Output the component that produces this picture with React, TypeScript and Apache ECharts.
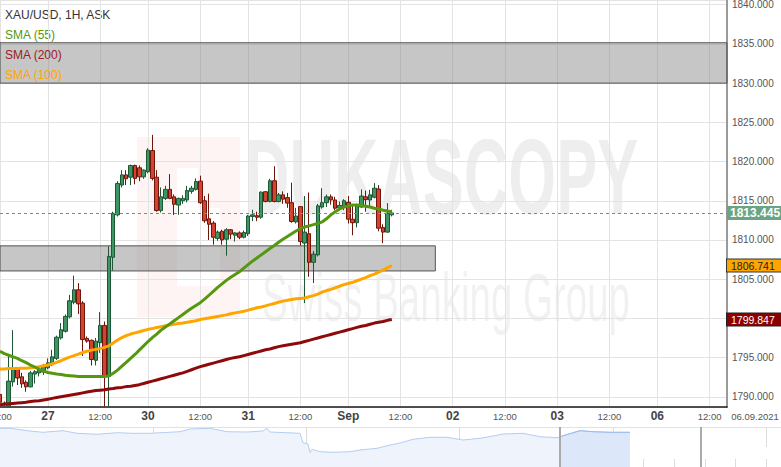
import React, { useEffect, useRef } from "react";
import * as echarts from "echarts";

const FONT = 'Arial, "Liberation Sans", sans-serif';
const range = (a: number, b: number) => Array.from({ length: b - a + 1 }, (_, i) => a + i);

// trading sessions (hourly slots, daily break at 21:00, weekend skipped)
const sessions = [
  { date: "2021-08-26", hours: [...range(12, 20), 22, 23] },
  { date: "2021-08-27", hours: range(0, 20) },
  { date: "2021-08-29", hours: [22, 23] },
  { date: "2021-08-30", hours: [...range(0, 20), 22, 23] },
  { date: "2021-08-31", hours: [...range(0, 20), 22, 23] },
  { date: "2021-09-01", hours: range(0, 23) },
  { date: "2021-09-02", hours: range(0, 23) },
  { date: "2021-09-03", hours: range(0, 20) },
  { date: "2021-09-05", hours: [22, 23] },
  { date: "2021-09-06", hours: range(0, 16) },
];
const dayLabels: Record<string, string> = {
  "2021-08-27": "27",
  "2021-08-30": "30",
  "2021-08-31": "31",
  "2021-09-01": "Sep",
  "2021-09-02": "02",
  "2021-09-03": "03",
  "2021-09-06": "06",
};

// [open, close, low, high]
const candles: number[][] = [
  [1790.3, 1789.3, 1788.75, 1791.3],
  [1789.2, 1789.0, 1788.8, 1789.4],
  [1788.8, 1792.0, 1788.75, 1795.4],
  [1791.9, 1793.5, 1791.3, 1798.5],
  [1793.5, 1792.4, 1791.5, 1793.8],
  [1792.55, 1791.65, 1791.15, 1793.05],
  [1791.86, 1791.27, 1790.64, 1792.1],
  [1791.27, 1793.05, 1791.2, 1793.3],
  [1792.9, 1793.2, 1791.7, 1793.4],
  [1793.05, 1793.4, 1792.6, 1793.8],
  [1793.15, 1794.0, 1792.8, 1794.2],
  [1793.7, 1794.33, 1793.5, 1794.9],
  [1794.1, 1795.1, 1793.9, 1796.0],
  [1794.9, 1797.6, 1794.7, 1797.8],
  [1797.5, 1798.55, 1797.3, 1799.4],
  [1798.35, 1800.25, 1798.2, 1800.5],
  [1800.2, 1802.25, 1800.0, 1803.0],
  [1802.05, 1803.65, 1801.8, 1805.45],
  [1803.65, 1801.85, 1800.55, 1804.5],
  [1801.95, 1797.3, 1795.2, 1802.2],
  [1797.45, 1797.1, 1796.9, 1797.7],
  [1797.2, 1794.75, 1794.0, 1797.3],
  [1794.65, 1797.1, 1794.0, 1797.5],
  [1796.9, 1799.1, 1795.6, 1800.8],
  [1799.1, 1792.6, 1788.75, 1799.6],
  [1792.6, 1807.9, 1788.75, 1809.2],
  [1807.8, 1813.4, 1806.1, 1813.6],
  [1813.2, 1817.2, 1813.0, 1817.5],
  [1817.0, 1818.3, 1816.7, 1818.9],
  [1818.3, 1817.8, 1817.0, 1818.9],
  [1818.0, 1819.5, 1817.0, 1819.6],
  [1819.5, 1817.85, 1817.1, 1819.6],
  [1819.2, 1818.05, 1817.5, 1819.5],
  [1818.05, 1818.9, 1817.8, 1819.0],
  [1818.7, 1821.45, 1818.5, 1821.7],
  [1821.4, 1817.85, 1817.6, 1823.4],
  [1818.0, 1813.75, 1813.6, 1818.9],
  [1813.75, 1815.5, 1813.5, 1816.7],
  [1815.3, 1816.45, 1815.1, 1816.9],
  [1816.45, 1815.3, 1815.2, 1818.4],
  [1815.5, 1814.55, 1813.2, 1815.8],
  [1814.45, 1815.3, 1813.2, 1815.4],
  [1815.0, 1815.3, 1814.6, 1815.7],
  [1815.1, 1816.3, 1814.8, 1816.9],
  [1816.2, 1816.6, 1815.9, 1816.9],
  [1816.45, 1817.45, 1816.3, 1817.85],
  [1817.5, 1814.75, 1814.6, 1818.2],
  [1815.0, 1812.45, 1812.2, 1815.6],
  [1812.7, 1812.0, 1810.0, 1815.9],
  [1812.15, 1810.35, 1809.4, 1812.4],
  [1810.2, 1811.0, 1809.9, 1811.2],
  [1811.1, 1810.0, 1809.4, 1811.3],
  [1810.1, 1811.3, 1808.0, 1811.5],
  [1811.3, 1810.75, 1810.1, 1811.4],
  [1810.6, 1810.9, 1809.8, 1811.0],
  [1810.9, 1810.35, 1810.1, 1811.1],
  [1810.35, 1810.95, 1810.2, 1811.2],
  [1810.8, 1813.05, 1810.5, 1813.2],
  [1813.0, 1813.2, 1812.4, 1813.85],
  [1813.1, 1812.9, 1812.4, 1813.6],
  [1812.9, 1816.1, 1812.7, 1816.2],
  [1816.15, 1814.9, 1814.8, 1816.2],
  [1814.9, 1817.55, 1814.8, 1817.8],
  [1817.55, 1814.9, 1814.8, 1819.4],
  [1814.9, 1815.75, 1814.8, 1816.0],
  [1815.75, 1815.2, 1814.6, 1816.2],
  [1815.4, 1814.7, 1814.1, 1816.0],
  [1814.75, 1812.35, 1812.2, 1817.3],
  [1812.3, 1813.05, 1812.1, 1814.1],
  [1814.25, 1809.8, 1809.3, 1814.25],
  [1809.6, 1811.0, 1801.95, 1815.6],
  [1810.8, 1807.15, 1805.3, 1816.05],
  [1807.15, 1808.2, 1804.5, 1808.6],
  [1808.1, 1814.35, 1807.9, 1814.6],
  [1814.2, 1814.75, 1814.0, 1816.6],
  [1814.75, 1815.5, 1814.2, 1815.8],
  [1815.5, 1815.1, 1814.5, 1815.8],
  [1815.1, 1814.05, 1813.8, 1815.5],
  [1814.1, 1814.4, 1813.8, 1814.9],
  [1814.2, 1815.0, 1813.8, 1815.2],
  [1814.8, 1812.65, 1812.1, 1815.6],
  [1812.65, 1812.2, 1810.6, 1814.5],
  [1812.2, 1814.4, 1811.6, 1814.6],
  [1814.2, 1815.6, 1814.1, 1816.45],
  [1815.5, 1815.15, 1813.6, 1816.3],
  [1815.1, 1815.75, 1814.3, 1816.4],
  [1815.45, 1816.6, 1815.3, 1817.25],
  [1816.5, 1811.5, 1811.1, 1817.0],
  [1811.6, 1811.0, 1809.6, 1812.0],
  [1811.0, 1813.4, 1810.9, 1814.7],
  [1813.2, 1813.445, 1813.0, 1813.85],
];

const sma55 = [
  1795.8, 1795.5, 1795.3, 1795.1, 1794.9, 1794.6, 1794.35, 1794.05, 1793.8, 1793.5,
  1793.3, 1793.1, 1793.0, 1792.9, 1792.85, 1792.75, 1792.7, 1792.65, 1792.6, 1792.6,
  1792.6, 1792.6, 1792.6, 1792.6, 1792.6, 1792.65, 1793.0, 1793.4, 1793.9, 1794.4,
  1794.9, 1795.4, 1795.95, 1796.5, 1797.05, 1797.55, 1798.0, 1798.5, 1798.9, 1799.3,
  1799.7, 1800.1, 1800.5, 1800.9, 1801.3, 1801.65, 1802.0, 1802.45, 1802.95, 1803.45,
  1803.95, 1804.4, 1804.85, 1805.25, 1805.6, 1805.95, 1806.4, 1806.85, 1807.3, 1807.7,
  1808.1, 1808.5, 1808.9, 1809.3, 1809.7, 1810.1, 1810.45, 1810.8, 1811.15, 1811.45,
  1811.65, 1811.8, 1811.95, 1812.1, 1812.3, 1812.7, 1813.2, 1813.6, 1813.95, 1814.2,
  1814.35, 1814.45, 1814.45, 1814.4, 1814.3, 1814.2, 1814.05, 1813.95, 1813.8, 1813.7,
  1813.6,
];

const sma100 = [
  1793.55, 1793.55, 1793.6, 1793.6, 1793.6, 1793.65, 1793.65, 1793.7, 1793.75, 1793.85,
  1793.95, 1794.05, 1794.2, 1794.4, 1794.6, 1794.85, 1795.05, 1795.25, 1795.45, 1795.65,
  1795.8, 1795.95, 1796.05, 1796.15, 1796.3, 1796.5, 1796.85, 1797.25, 1797.55, 1797.8,
  1798.0, 1798.15, 1798.3, 1798.45, 1798.6, 1798.7, 1798.85, 1798.95, 1799.05, 1799.15,
  1799.25, 1799.35, 1799.4, 1799.5, 1799.6, 1799.7, 1799.85, 1799.95, 1800.05, 1800.15,
  1800.25, 1800.35, 1800.45, 1800.6, 1800.7, 1800.8, 1800.9, 1801.05, 1801.2, 1801.35,
  1801.45, 1801.6, 1801.75, 1801.9, 1802.05, 1802.2, 1802.3, 1802.4, 1802.5, 1802.55,
  1802.6, 1802.75, 1802.9, 1803.1, 1803.35, 1803.55, 1803.7, 1803.9, 1804.1, 1804.3,
  1804.45, 1804.6, 1804.8, 1805.0, 1805.2, 1805.45, 1805.65, 1805.9, 1806.15, 1806.45,
  1806.741,
];

const sma200 = [
  1789.0, 1789.05, 1789.1, 1789.15, 1789.2, 1789.25, 1789.3, 1789.4, 1789.45, 1789.5,
  1789.6, 1789.7, 1789.8, 1789.9, 1790.0, 1790.1, 1790.2, 1790.3, 1790.4, 1790.5,
  1790.6, 1790.7, 1790.8, 1790.85, 1790.9, 1791.0, 1791.05, 1791.15, 1791.2, 1791.3,
  1791.35, 1791.45, 1791.55, 1791.7, 1791.85, 1792.0, 1792.15, 1792.3, 1792.45, 1792.6,
  1792.75, 1792.9, 1793.05, 1793.25, 1793.45, 1793.65, 1793.85, 1794.0, 1794.15, 1794.3,
  1794.45, 1794.6, 1794.75, 1794.9, 1795.0, 1795.1, 1795.25, 1795.4, 1795.55, 1795.7,
  1795.85, 1796.0, 1796.1, 1796.25, 1796.4, 1796.5, 1796.6, 1796.7, 1796.8, 1796.9,
  1797.05, 1797.2, 1797.35, 1797.5, 1797.65, 1797.8, 1797.95, 1798.1, 1798.25, 1798.4,
  1798.55, 1798.7, 1798.85, 1799.0, 1799.1, 1799.25, 1799.4, 1799.5, 1799.6, 1799.75,
  1799.847,
];

// resistance / support zones [top, bottom] and zone-2 end slot
const zoneUpper = [1835.15, 1830.0];
const zoneLower = [1809.25, 1806.05];
const zoneLowerEndSlot = 100;

// navigator (overview) line: [position, level]
const navPoints: number[][] = [
  [0, 38.7], [10, 38.7], [30, 36], [43, 34.7], [63, 36.3], [77, 33.7], [97, 32.7],
  [117, 34.3], [133, 33.7], [150, 33.7], [180, 35.3], [190, 38], [210, 38.7],
  [227, 35.3], [247, 35], [263, 36], [267, 38.7], [270, 35], [300, 33.7], [303, 24.3],
  [308, 23], [310, 14.3], [312, 17.7], [320, 15.3], [333, 14.7], [350, 15.3], [360, 17],
  [377, 18.7], [390, 22], [400, 24], [413, 27.7], [430, 29.7], [447, 29.7], [463, 27],
  [480, 28.7], [493, 31], [503, 33], [523, 33.7], [540, 30.3], [557, 29.3], [560, 30],
  [562, 31], [580, 36.3], [593, 35.3], [610, 34.7], [630, 34.7],
];
const navWindowStart = 560;
const navHandle = 701;
const navTickStep = 30.65;

const categories = sessions.flatMap((s) =>
  s.hours.map((h) => `${s.date} ${String(h).padStart(2, "0")}:00`)
);
const labelOf = (v: string) => {
  const [d, t] = v.split(" ");
  if (t === "00:00" && dayLabels[d]) return `{day|${dayLabels[d]}}`;
  if (t === "12:00") return `{hr|12:00}`;
  return "";
};
const isLabelSlot = (_i: number, v: string) => labelOf(v) !== "";

export default function App() {
  const ref = useRef<HTMLDivElement>(null);
  useEffect(() => {
    if (!ref.current) return;
    const chart = echarts.init(ref.current, undefined, { renderer: "svg" });
    const lastPrice = candles[candles.length - 1][1];
    const last100 = sma100[sma100.length - 1];
    const last200 = sma200[sma200.length - 1];
    const tag = (bg: string, color: string, bold: boolean, border?: string) => ({
      show: true,
      position: "end",
      distance: 0,
      color,
      opacity: 1,
      fontFamily: FONT,
      fontSize: bold ? 12 : 10.5,
      fontWeight: bold ? "bold" : "normal",
      backgroundColor: bg,
      borderColor: border || bg,
      borderWidth: border ? 1 : 0,
      padding: bold ? [1, 3, 1, 3] : [1, 8, 0, 4],
      lineHeight: bold ? 12 : 11,
    });
    const hiddenLine = { color: "rgba(0,0,0,0)", width: 1, type: "solid" };
    const option: any = {
      animation: false,
      backgroundColor: "#ffffff",
      textStyle: { fontFamily: FONT },
      grid: [
        { left: 0, right: 54, top: 0, height: 407, outerBoundsMode: "none" },
        { left: 0, right: 0, top: 427, height: 40, outerBoundsMode: "none" },
      ],
      xAxis: [
        {
          type: "category",
          gridIndex: 0,
          data: categories,
          boundaryGap: false,
          axisLine: { lineStyle: { color: "#1a1a1a", width: 1.5 } },
          axisTick: { show: false },
          axisLabel: {
            interval: isLabelSlot,
            formatter: (v: string) => labelOf(v),
            margin: 3,
            rich: {
              day: { fontSize: 12, fontWeight: "bold", color: "#444", lineHeight: 12, fontFamily: FONT },
              hr: { fontSize: 9.5, color: "#555", lineHeight: 12, fontFamily: FONT },
            },
          },
          splitLine: { show: true, interval: isLabelSlot, lineStyle: { color: "#e3e3e3", width: 1 } },
        },
        {
          type: "value",
          gridIndex: 1,
          min: 0,
          max: 781,
          interval: navTickStep,
          axisLine: { show: false },
          axisLabel: { show: false },
          axisTick: { show: true, inside: true, length: 8, lineStyle: { color: "#dcdcdc" } },
          splitLine: { show: false },
        },
        {
          type: "value",
          gridIndex: 1,
          min: 0,
          max: 781,
          interval: navTickStep * 5,
          axisLine: { show: false },
          axisLabel: { show: false },
          axisTick: { show: true, inside: true, length: 20, lineStyle: { color: "#dcdcdc" } },
          splitLine: { show: false },
        },
      ],
      yAxis: [
        {
          type: "value",
          gridIndex: 0,
          position: "right",
          min: 1788.7,
          max: 1840.6,
          splitNumber: 10,
          axisLine: { show: true, lineStyle: { color: "#9a9a9a", width: 2 } },
          axisTick: { show: false },
          axisLabel: {
            color: "#555",
            fontSize: 10,
            margin: 5,
            formatter: (v: number) => (Math.abs(v / 5 - Math.round(v / 5)) < 1e-6 ? v.toFixed(3) : ""),
          },
          splitLine: { show: true, lineStyle: { color: "#e3e3e3", width: 1 } },
        },
        { type: "value", gridIndex: 1, min: 0, max: 40, show: false },
      ],
      series: [
        {
          type: "candlestick",
          name: "XAU/USD",
          xAxisIndex: 0,
          yAxisIndex: 0,
          data: candles,
          barWidth: 4,
          z: 3,
          clip: true,
          itemStyle: {
            color: "#3f9463",
            color0: "#d5432e",
            borderColor: "#1d5734",
            borderColor0: "#6e150c",
            borderWidth: 1,
          },
          markArea: {
            silent: true,
            itemStyle: { color: "rgba(120,120,120,0.42)", borderColor: "#555", borderWidth: 1 },
            data: [
              [
                { xAxis: categories[0], yAxis: zoneUpper[0] },
                { xAxis: categories[categories.length - 1], yAxis: zoneUpper[1] },
              ],
              [
                { xAxis: categories[0], yAxis: zoneLower[0] },
                { xAxis: categories[zoneLowerEndSlot], yAxis: zoneLower[1] },
              ],
            ],
          },
          markLine: {
            silent: true,
            symbol: ["none", "none"],
            lineStyle: { type: [3, 3], color: "#5e9c7a", width: 1 },
            label: { ...tag("#6aa583", "#ffffff", true), formatter: lastPrice.toFixed(3) },
            data: [{ yAxis: lastPrice }],
          },
        },
        {
          type: "line",
          name: "SMA (200)",
          data: sma200,
          showSymbol: false,
          z: 4,
          lineStyle: { color: "#8e0a0a", width: 3 },
          itemStyle: { color: "#8e0a0a" },
          markLine: {
            silent: true,
            symbol: ["none", "none"],
            lineStyle: hiddenLine,
            label: { ...tag("#8b0000", "#ffffff", false, "#222"), formatter: last200.toFixed(3) },
            data: [{ yAxis: last200 }],
          },
        },
        {
          type: "line",
          name: "SMA (100)",
          data: sma100,
          showSymbol: false,
          z: 4,
          lineStyle: { color: "#ffa500", width: 3 },
          itemStyle: { color: "#ffa500" },
          markLine: {
            silent: true,
            symbol: ["none", "none"],
            lineStyle: hiddenLine,
            label: { ...tag("#ffa500", "#222222", false, "#333"), formatter: last100.toFixed(3) },
            data: [{ yAxis: last100 }],
          },
        },
        {
          type: "line",
          name: "SMA (55)",
          data: sma55,
          showSymbol: false,
          z: 5,
          lineStyle: { color: "#55980f", width: 3 },
          itemStyle: { color: "#55980f" },
        },
        {
          type: "line",
          xAxisIndex: 1,
          yAxisIndex: 1,
          data: navPoints,
          showSymbol: false,
          silent: true,
          lineStyle: { color: "#b5cdf1", width: 1 },
          areaStyle: { color: "#eef3fc", opacity: 1 },
          markLine: {
            silent: true,
            symbol: ["none", "none"],
            label: { show: false },
            lineStyle: { color: "#aaaaaa", width: 2, type: "solid" },
            data: [{ xAxis: navWindowStart }, { xAxis: navHandle }],
          },
        },
        {
          type: "line",
          xAxisIndex: 1,
          yAxisIndex: 1,
          data: navPoints.filter((p) => p[0] >= navWindowStart),
          showSymbol: false,
          silent: true,
          lineStyle: { color: "#9dbbee", width: 1 },
          areaStyle: { color: "#dce7fa", opacity: 1 },
        },
      ],
      graphic: [
        {
          type: "rect",
          z: 0,
          silent: true,
          shape: { x: 137, y: 137, width: 103, height: 180 },
          style: { fill: "rgba(230,70,70,0.06)" },
        },
        {
          type: "rect",
          z: 0,
          silent: true,
          shape: { x: 177, y: 168, width: 21, height: 118 },
          style: { fill: "#ffffff" },
        },
        {
          type: "rect",
          z: 0,
          silent: true,
          shape: { x: 198, y: 208, width: 22, height: 78 },
          style: { fill: "#ffffff" },
        },
        {
          type: "text",
          z: 0,
          silent: true,
          x: 245,
          y: 177,
          scaleX: 0.57,
          style: { text: "DUKASCOPY", font: "bold 108px " + FONT, fill: "rgba(0,0,0,0.065)", verticalAlign: "middle" },
        },
        {
          type: "text",
          z: 0,
          silent: true,
          x: 262,
          y: 298,
          scaleX: 0.566,
          style: { text: "Swiss Banking Group", font: "68px " + FONT, fill: "rgba(0,0,0,0.055)", verticalAlign: "middle" },
        },
        {
          type: "text",
          left: 5,
          top: 9,
          style: { text: "XAU/USD, 1H, ASK", font: "12px " + FONT, fill: "#333" },
        },
        {
          type: "text",
          left: 5,
          top: 29,
          style: { text: "SMA (55)", font: "12px " + FONT, fill: "#55980f" },
        },
        {
          type: "text",
          left: 5,
          top: 49,
          z: 10,
          style: { text: "SMA (200)", font: "12px " + FONT, fill: "#9b1c1c" },
        },
        {
          type: "text",
          left: 5,
          top: 69,
          z: 10,
          style: { text: "SMA (100)", font: "12px " + FONT, fill: "#ffa500" },
        },
        {
          type: "text",
          x: 755,
          y: 416,
          style: { text: "06.09.2021", font: "9.5px " + FONT, fill: "#555", align: "center", verticalAlign: "middle" },
        },
        {
          type: "line",
          silent: true,
          shape: { x1: 0, y1: 427.5, x2: 781, y2: 427.5 },
          style: { stroke: "#e2e2e2", lineWidth: 1 },
        },
      ],
    };
    chart.setOption(option);
    return () => chart.dispose();
  }, []);
  return (
    <div
      ref={ref}
      style={{ position: "fixed", left: 0, top: 0, width: 781, height: 467, background: "#fff" }}
    />
  );
}
